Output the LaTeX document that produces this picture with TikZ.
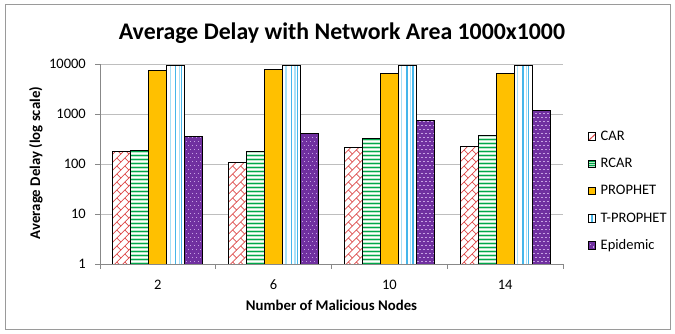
\documentclass[tikz,border=0pt]{standalone}
\usepackage{fontspec}
\setmainfont{Carlito}

\definecolor{framegray}{HTML}{9A9A9A}
\definecolor{gridgray}{HTML}{BEBEBE}
\definecolor{axisgray}{HTML}{888888}
\definecolor{carred}{HTML}{DE4B4B}
\definecolor{rcargreen}{HTML}{00A84A}
\definecolor{rcarbg}{HTML}{BCE9CA}
\definecolor{prophetorange}{HTML}{FFC000}
\definecolor{tpblue}{HTML}{45B6EA}
\definecolor{tplight}{HTML}{A8E0F7}
\definecolor{epipurple}{HTML}{7030A0}
\definecolor{epidot}{HTML}{C7A3E3}

% bar geometry: group g, series s -> left edge
\newcommand\barpos[2]{%
  \pgfmathsetmacro\bx{112.9+115.75*#1+18*#2}%
  \pgfmathsetmacro\bxr{\bx+18}}

% CAR: diagonal brick hatch in red
\newcommand\carbar[2]{%
  \barpos{#1}{0}%
  \begin{scope}
    \clip (\bx,264) rectangle (\bxr,#2);
    \fill[white] (\bx,264) rectangle (\bxr,#2);
    \foreach \r in {0,...,26}{
      \foreach \c in {-1,...,2}{
        \draw[carzig] ({\bx+8*\c},{266-8*\r}) -- ++(8,-8);
        \draw[carzig] ({\bx+8*\c+4},{262-8*\r}) -- ++(4,4);
      }
    }
  \end{scope}
  \draw[barline] (\bx,264) rectangle (\bxr,#2);}

% RCAR: horizontal green stripes
\newcommand\rcarbar[2]{%
  \barpos{#1}{1}%
  \begin{scope}
    \clip (\bx,264) rectangle (\bxr,#2);
    \fill[rcarbg] (\bx,264) rectangle (\bxr,#2);
    \foreach \r in {0,...,52}{
      \draw[rcargreen,line width=0.8pt] (\bx,{263-4*\r}) -- (\bxr,{263-4*\r});
      \draw[white,line width=0.6pt] (\bx,{261-4*\r}) -- (\bxr,{261-4*\r});
    }
  \end{scope}
  \draw[barline] (\bx,264) rectangle (\bxr,#2);}

% PROPHET: solid orange
\newcommand\prophetbar[2]{%
  \barpos{#1}{2}%
  \fill[prophetorange] (\bx,264) rectangle (\bxr,#2);
  \draw[barline] (\bx,264) rectangle (\bxr,#2);}

% T-PROPHET: white with vertical blue lines
\newcommand\tprophetbar[2]{%
  \barpos{#1}{3}%
  \fill[white] (\bx,264) rectangle (\bxr,#2);
  \draw[tplight,line width=1.3pt] ({\bx+3.3},264) -- ({\bx+3.3},#2);
  \draw[tpblue,line width=1.5pt] ({\bx+8.6},264) -- ({\bx+8.6},#2);
  \draw[tplight,line width=1.2pt] ({\bx+12.4},264) -- ({\bx+12.4},#2);
  \draw[tpblue,line width=1.3pt] ({\bx+14.6},264) -- ({\bx+14.6},#2);
  \draw[barline] (\bx,264) rectangle (\bxr,#2);}

% Epidemic: purple with light dots
\newcommand\epibar[2]{%
  \barpos{#1}{4}%
  \begin{scope}
    \clip (\bx,264) rectangle (\bxr,#2);
    \fill[epipurple] (\bx,264) rectangle (\bxr,#2);
    \foreach \r in {0,...,50}{
      \foreach \c in {0,...,4}{
        \fill[epidot] ({\bx+1+4*\c+2*mod(\r,2)},{262-4*\r}) rectangle ++(1.4,-1.4);
      }
    }
  \end{scope}
  \draw[barline] (\bx,264) rectangle (\bxr,#2);}

\begin{document}
\begin{tikzpicture}[x=1pt,y=-1pt,
  barline/.style={draw=black,line width=0.9pt},
  carzig/.style={draw=carred,line width=0.75pt},
  gridrule/.style={draw=gridgray,line width=0.9pt},
  axisrule/.style={draw=axisgray,line width=0.9pt},
  ticklabel/.style={font=\fontsize{14.5}{16}\selectfont,inner sep=0pt},
  axistitle/.style={font=\fontsize{14.8}{16}\selectfont\bfseries,inner sep=0pt},
  legendtext/.style={font=\fontsize{14.5}{16}\selectfont,inner sep=0pt,anchor=base west},
  legendbox/.style={draw=black,line width=0.8pt}]

\useasboundingbox (0,0) rectangle (675,333);
\fill[white] (0,0) rectangle (675,333);
\draw[framegray,line width=0.9pt] (5,4.5) rectangle (670.5,329);

% title
\node[font=\fontsize{23.8}{26}\selectfont\bfseries,inner sep=0pt,anchor=base] (title) at (342,39)
  {Average Delay with Network Area 1000x1000};

% gridlines
\foreach \y in {64,114,164,214}{
  \draw[gridrule] (100,\y) -- (563,\y);
}

% value axis with ticks and labels
\draw[axisrule] (100,64) -- (100,264);
\foreach \y/\v [count=\i] in {264/1,214/10,164/100,114/1000,64/10000}{
  \draw[axisrule] (95,\y) -- (100,\y);
  \node[ticklabel,anchor=base east] (ylab\i) at (86,{\y+4.3}) {\v};
}
\node[axistitle,rotate=90] (ytitle) at (36,163) {Average Delay (log scale)};

% bars
\carbar{0}{151.7} \rcarbar{0}{150.3} \prophetbar{0}{70.7} \tprophetbar{0}{65.3} \epibar{0}{136}
\carbar{1}{162.7} \rcarbar{1}{151.3} \prophetbar{1}{69.3} \tprophetbar{1}{65.3} \epibar{1}{133}
\carbar{2}{147}   \rcarbar{2}{138}   \prophetbar{2}{73.7} \tprophetbar{2}{65.3} \epibar{2}{120}
\carbar{3}{146.3} \rcarbar{3}{135.3} \prophetbar{3}{73.7} \tprophetbar{3}{65.3} \epibar{3}{110.3}

% category axis
\draw[axisrule] (100,264) -- (563,264);
\foreach \k in {0,...,4}{
  \draw[axisrule] ({100+115.75*\k},264) -- ({100+115.75*\k},269);
}
\foreach \c/\lab [count=\i] in {0/2,1/6,2/10,3/14}{
  \node[ticklabel,anchor=base] (xlab\i) at ({157.9+115.75*\c},289) {\lab};
}
\node[axistitle,anchor=base] (xtitle) at (331.5,310.5) {Number of Malicious Nodes};

% legend
\begin{scope}
  \clip (588,132.5) rectangle (595.5,140);
  \fill[white] (588,132.5) rectangle (595.5,140);
  \draw[carred,line width=1pt] (589,140) -- (595.5,134);
\end{scope}
\draw[legendbox] (588,132.5) rectangle (595.5,140);
\node[legendtext] (legcar) at (600.5,140) {CAR};

\fill[rcarbg] (588,159.9) rectangle (595.5,167.4);
\foreach \d in {1.9,3.8,5.7}{
  \draw[rcargreen,line width=0.8pt] (588,{159.9+\d}) -- (595.5,{159.9+\d});
}
\draw[legendbox] (588,159.9) rectangle (595.5,167.4);
\node[legendtext] (legrcar) at (600.5,167.4) {RCAR};

\fill[prophetorange] (588,187.2) rectangle (595.5,194.7);
\draw[legendbox] (588,187.2) rectangle (595.5,194.7);
\node[legendtext] (legprophet) at (600.5,194.7) {PROPHET};

\fill[white] (588,214.5) rectangle (595.5,222);
\draw[tpblue,line width=1.4pt] (592,214.5) -- (592,222);
\draw[legendbox] (588,214.5) rectangle (595.5,222);
\node[legendtext] (legtprophet) at (600.5,222) {T-PROPHET};

\fill[epipurple] (588,241.8) rectangle (595.5,249.3);
\fill[epidot] (590,244) rectangle ++(1.3,1.3);
\fill[epidot] (592.5,246.3) rectangle ++(1.3,1.3);
\draw[legendbox] (588,241.8) rectangle (595.5,249.3);
\node[legendtext] (legepidemic) at (600.5,249.3) {Epidemic};

\end{tikzpicture}
\end{document}
